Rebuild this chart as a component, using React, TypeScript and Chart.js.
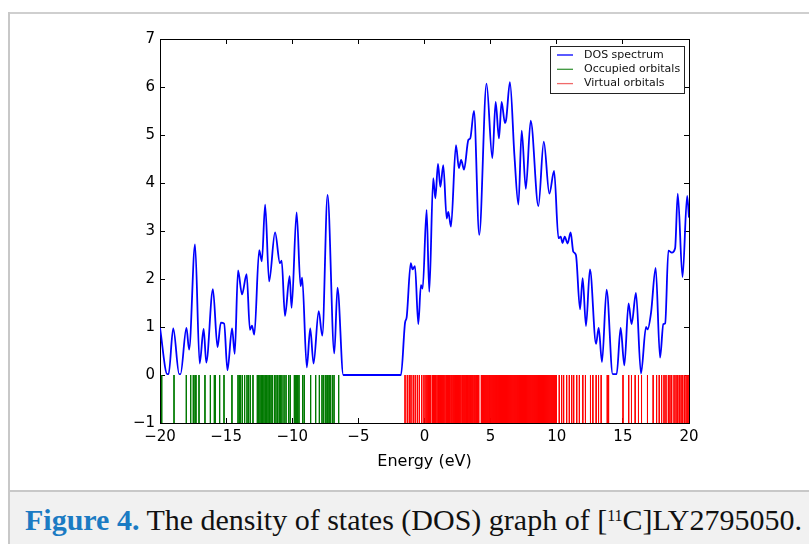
import React, { useEffect, useRef } from 'react';
import { Chart, registerables } from 'chart.js';

Chart.register(...registerables);

// ---- data ----
const dosEnergy = [
  -20.0, -19.45, -19.35, -19.0, -18.55, -18.45, -18.0, -17.8, -17.35, -17.0,
  -16.7, -16.5, -16.0, -15.65, -15.4, -15.15, -14.9, -14.55, -14.35, -14.1,
  -13.8, -13.45, -13.2, -13.05, -12.87, -12.5, -12.3, -12.05, -11.75, -11.3,
  -10.93, -10.8, -10.55, -10.2, -10.05, -9.67, -9.37, -9.25, -8.9, -8.64,
  -8.39, -8.0, -7.73, -7.33, -6.82, -6.58, -6.14, -1.78, -1.47, -1.35,
  -1.04, -0.9, -0.72, -0.47, -0.27, -0.14, 0.16, 0.36, 0.66, 0.82,
  1.02, 1.2, 1.42, 1.68, 1.8, 2.0, 2.38, 2.6, 2.77, 2.99,
  3.32, 3.46, 3.74, 4.14, 4.69, 5.13, 5.38, 5.63, 5.83, 6.08,
  6.18, 6.46, 6.8, 7.1, 7.35, 7.66, 8.03, 8.61, 9.02, 9.44,
  9.8, 10.13, 10.3, 10.44, 10.6, 10.82, 11.05, 11.25, 11.45, 11.76,
  11.96, 12.21, 12.51, 12.97, 13.17, 13.42, 13.77, 14.23, 14.53, 14.83,
  15.11, 15.43, 15.66, 15.99, 16.37, 16.75, 16.87, 17.13, 17.48, 17.81,
  18.06, 18.2, 18.44, 18.7, 18.95, 19.15, 19.51, 19.86, 20.0,
];
const dosValue = [
  0.98, 0.02, 0.02, 0.97, 0.02, 0.02, 0.98, 0.53, 2.72, 0.24,
  0.96, 0.26, 1.79, 0.58, 1.09, 1.07, 0.1, 0.97, 0.44, 2.18,
  1.68, 2.1, 0.94, 1.03, 0.84, 2.6, 2.37, 3.55, 1.95, 2.97,
  2.33, 2.38, 1.23, 2.06, 1.4, 3.39, 1.85, 2.03, 0.16, 0.97,
  0.24, 1.33, 0.82, 3.75, 0.45, 1.82, 0.0, 0.0, 1.09, 1.2,
  2.33, 2.2, 2.27, 1.06, 1.87, 1.8, 3.44, 1.73, 4.1, 3.68,
  4.4, 3.92, 4.37, 3.26, 3.4, 3.09, 4.79, 4.31, 4.48, 4.28,
  4.9, 4.93, 5.5, 2.92, 6.07, 4.52, 5.69, 4.93, 5.69, 5.25,
  5.33, 6.1, 4.57, 3.55, 5.09, 3.88, 5.3, 3.52, 4.86, 3.78,
  4.25, 2.85, 2.88, 2.75, 2.88, 2.74, 2.97, 2.57, 2.5, 1.37,
  2.02, 1.02, 2.2, 0.65, 0.98, 0.27, 1.78, 0.02, 0.02, 0.98,
  0.2, 1.49, 1.06, 1.71, 0.03, 1.0, 0.95, 1.3, 2.23, 0.36,
  1.06, 1.08, 2.59, 2.55, 2.64, 3.78, 2.04, 3.73, 3.28,
];
const occupiedEnergy = [
  -19.87, -18.94, -18.01, -17.68, -17.48, -17.35, -17.28, -17.05, -16.6, -16.19,
  -15.89, -15.82, -15.49, -15.16, -14.56, -14.1, -14.0, -13.9, -13.77, -13.6,
  -13.42, -13.3, -13.17, -12.97, -12.64, -12.54, -12.44, -12.34, -12.24, -12.14,
  -12.04, -11.93, -11.83, -11.73, -11.61, -11.51, -11.35, -11.23, -11.1, -10.98,
  -10.88, -10.78, -10.62, -10.47, -10.27, -10.15, -9.84, -9.77, -9.69, -9.59,
  -9.49, -9.21, -9.09, -8.61, -8.23, -7.95, -7.75, -7.62, -7.47, -7.37,
  -7.3, -7.2, -7.12, -6.97, -6.84, -6.49,
];
const virtualEnergy = [
  -1.47, -1.3, -1.15, -1.02, -0.85, -0.7, -0.54, -0.39, -0.21, -0.04,
  0.11, 0.2, 0.29, 0.38, 0.47, 0.6, 0.68, 0.77, 0.85, 0.95,
  1.05, 1.12, 1.2, 1.3, 1.38, 1.46, 1.55, 1.65, 1.75, 1.82,
  1.9, 2.0, 2.08, 2.17, 2.25, 2.35, 2.42, 2.5, 2.58, 2.66,
  2.75, 2.85, 2.92, 3.0, 3.08, 3.17, 3.26, 3.35, 3.43, 3.5,
  3.58, 3.66, 3.75, 3.83, 3.92, 4.0, 4.1, 4.3, 4.4, 4.48,
  4.56, 4.64, 4.72, 4.8, 4.88, 4.95, 5.03, 5.11, 5.19, 5.27,
  5.35, 5.43, 5.5, 5.58, 5.66, 5.74, 5.82, 5.9, 5.97, 6.05,
  6.13, 6.21, 6.29, 6.37, 6.45, 6.53, 6.61, 6.69, 6.77, 6.85,
  6.93, 7.01, 7.09, 7.17, 7.25, 7.33, 7.41, 7.49, 7.57, 7.65,
  7.73, 7.81, 7.89, 7.97, 8.05, 8.13, 8.21, 8.29, 8.37, 8.45,
  8.53, 8.61, 8.69, 8.77, 8.85, 8.93, 9.01, 9.09, 9.17, 9.25,
  9.33, 9.41, 9.49, 9.57, 9.65, 9.73, 9.81, 9.89, 9.97, 10.19,
  10.37, 10.52, 10.75, 10.95, 11.13, 11.28, 11.51, 11.71, 11.97, 12.17,
  12.55, 12.73, 12.98, 13.16, 13.36, 13.82, 13.92, 15.01, 15.44, 15.65,
  15.93, 16.18, 16.41, 16.86, 17.29, 17.55, 17.75, 17.93, 18.11, 18.26,
  18.44, 18.56, 18.69, 18.87, 19.02, 19.15, 19.27, 19.4, 19.53, 19.66,
  19.78, 19.91, 20.0,
];
const stickTop = 0;
const stickBottom = -1;

const xTicks = [-20, -15, -10, -5, 0, 5, 10, 15, 20];
const xTickLabels = ['\u221220', '\u221215', '\u221210', '\u22125', '0', '5', '10', '15', '20'];
const yTicks = [-1, 0, 1, 2, 3, 4, 5, 6, 7];
const yTickLabels = ['\u22121', '0', '1', '2', '3', '4', '5', '6', '7'];
const xTitle = 'Energy (eV)';
const seriesLabels = ['DOS spectrum', 'Occupied orbitals', 'Virtual orbitals'];
const seriesColors = ['#0000ff', '#007a00', '#ff0000'];
const legendColors = ['#0000ff', '#3c963c', '#f06a6a'];

function sticks(energies: number[]) {
  const out: { x: number; y: number | null }[] = [];
  for (const e of energies) {
    out.push({ x: e, y: stickTop }, { x: e, y: stickBottom }, { x: e, y: null });
  }
  return out;
}

const legendPlugin = {
  id: 'mplLegend',
  afterDraw(chart: any) {
    const { ctx, chartArea } = chart;
    const boxW = 134;
    const boxH = 47;
    const x0 = Math.round(chartArea.right - 5 - boxW);
    const y0 = Math.round(chartArea.top + 7);
    ctx.save();
    ctx.fillStyle = '#ffffff';
    ctx.fillRect(x0, y0, boxW, boxH);
    ctx.strokeStyle = '#222';
    ctx.lineWidth = 1;
    ctx.strokeRect(x0 + 0.5, y0 + 0.5, boxW, boxH);
    ctx.font = '11px "DejaVu Sans"';
    ctx.textBaseline = 'middle';
    ctx.textAlign = 'left';
    seriesLabels.forEach((t, i) => {
      const cy = y0 + 9 + i * 14.3;
      ctx.strokeStyle = legendColors[i];
      ctx.lineWidth = 1.3;
      ctx.beginPath();
      ctx.moveTo(x0 + 7, cy);
      ctx.lineTo(x0 + 23, cy);
      ctx.stroke();
      ctx.fillStyle = '#111';
      ctx.fillText(t, x0 + 34, cy);
    });
    ctx.restore();
  },
};

function axisGrid() {
  return {
    display: true,
    drawOnChartArea: false,
    drawTicks: true,
    tickLength: -5,
    tickWidth: 1,
    tickColor: '#000',
  };
}

function ChartView() {
  const ref = useRef<HTMLCanvasElement | null>(null);
  useEffect(() => {
    if (!ref.current) return;
    Chart.defaults.font.family = '"DejaVu Sans", sans-serif';
    Chart.defaults.color = '#000';
    const chart = new Chart(ref.current, {
      type: 'line',
      data: {
        datasets: [
          {
            label: seriesLabels[0],
            data: dosEnergy.map((e, i) => ({ x: e, y: dosValue[i] })),
            borderColor: seriesColors[0],
            borderWidth: 1.8,
            pointRadius: 0,
            cubicInterpolationMode: 'monotone',
            fill: false,
          },
          {
            label: seriesLabels[1],
            data: sticks(occupiedEnergy),
            borderColor: seriesColors[1],
            borderWidth: 1,
            pointRadius: 0,
            tension: 0,
            spanGaps: false,
          },
          {
            label: seriesLabels[2],
            data: sticks(virtualEnergy),
            borderColor: seriesColors[2],
            borderWidth: 1,
            pointRadius: 0,
            tension: 0,
            spanGaps: false,
          },
        ],
      } as any,
      options: {
        animation: false,
        responsive: false,
        events: [],
        layout: { padding: 0 },
        plugins: { legend: { display: false }, tooltip: { enabled: false } },
        scales: {
          x: {
            type: 'linear',
            position: 'bottom',
            min: -20,
            max: 20,
            afterBuildTicks: (s: any) => { s.ticks = xTicks.map((v) => ({ value: v })); },
            afterFit: (s: any) => { s.height = 67; },
            ticks: {
              font: { size: 15 },
              padding: 10,
              maxRotation: 0,
              autoSkip: false,
              callback: (_v: any, i: number) => xTickLabels[i],
            },
            grid: axisGrid(),
            border: { display: true, color: '#000', width: 1 },
            title: { display: true, text: xTitle, font: { size: 16 }, padding: { top: 0, bottom: 19 } },
          },
          x2: {
            type: 'linear',
            position: 'top',
            min: -20,
            max: 20,
            afterBuildTicks: (s: any) => { s.ticks = xTicks.map((v) => ({ value: v })); },
            afterFit: (s: any) => { s.height = 16; },
            ticks: { display: false },
            grid: axisGrid(),
            border: { display: true, color: '#000', width: 1 },
          },
          y: {
            type: 'linear',
            position: 'left',
            min: -1,
            max: 7,
            afterBuildTicks: (s: any) => { s.ticks = yTicks.map((v) => ({ value: v })); },
            afterFit: (s: any) => { s.width = 70; },
            ticks: {
              font: { size: 15 },
              padding: 10,
              autoSkip: false,
              callback: (_v: any, i: number) => yTickLabels[i],
            },
            grid: axisGrid(),
            border: { display: true, color: '#000', width: 1 },
          },
          y2: {
            type: 'linear',
            position: 'right',
            min: -1,
            max: 7,
            afterBuildTicks: (s: any) => { s.ticks = yTicks.map((v) => ({ value: v })); },
            afterFit: (s: any) => { s.width = 21; },
            ticks: { display: false },
            grid: axisGrid(),
            border: { display: true, color: '#000', width: 1 },
          },
        },
      } as any,
      plugins: [legendPlugin],
    });
    return () => chart.destroy();
  }, []);
  return (
    <canvas
      ref={ref}
      width={620}
      height={470}
      style={{ position: 'absolute', left: 90, top: 20, width: 620, height: 470 }}
    />
  );
}

export default function App() {
  return (
    <div style={{ position: 'fixed', left: 0, top: 0, width: 809, height: 544, background: '#fff', overflow: 'hidden' }}>
      <div style={{ position: 'absolute', left: 8, top: 12, width: 801, height: 0, borderTop: '2px solid #cfcfcf' }} />
      <div style={{ position: 'absolute', left: 8, top: 12, width: 0, height: 532, borderLeft: '2px solid #c8c8c8' }} />
      <ChartView />
      <div
        style={{
          position: 'absolute',
          left: 10,
          top: 490,
          width: 799,
          height: 54,
          background: '#f1f1f1',
          borderTop: '2px solid #c8c8c8',
        }}
      />
      <div
        style={{
          position: 'absolute',
          left: 25,
          top: 505,
          whiteSpace: 'nowrap',
          fontFamily: '"Liberation Serif", serif',
          fontSize: 30,
          lineHeight: '30px',
          color: '#111',
        }}
      >
        <span style={{ color: '#1b7bc3', fontWeight: 'bold' }}>Figure 4.</span>
        {' The density of states (DOS) graph of ['}
        <sup style={{ fontSize: 16, verticalAlign: 'top', lineHeight: '18px', position: 'relative', top: 2 }}>11</sup>
        {'C]LY2795050.'}
      </div>
    </div>
  );
}
